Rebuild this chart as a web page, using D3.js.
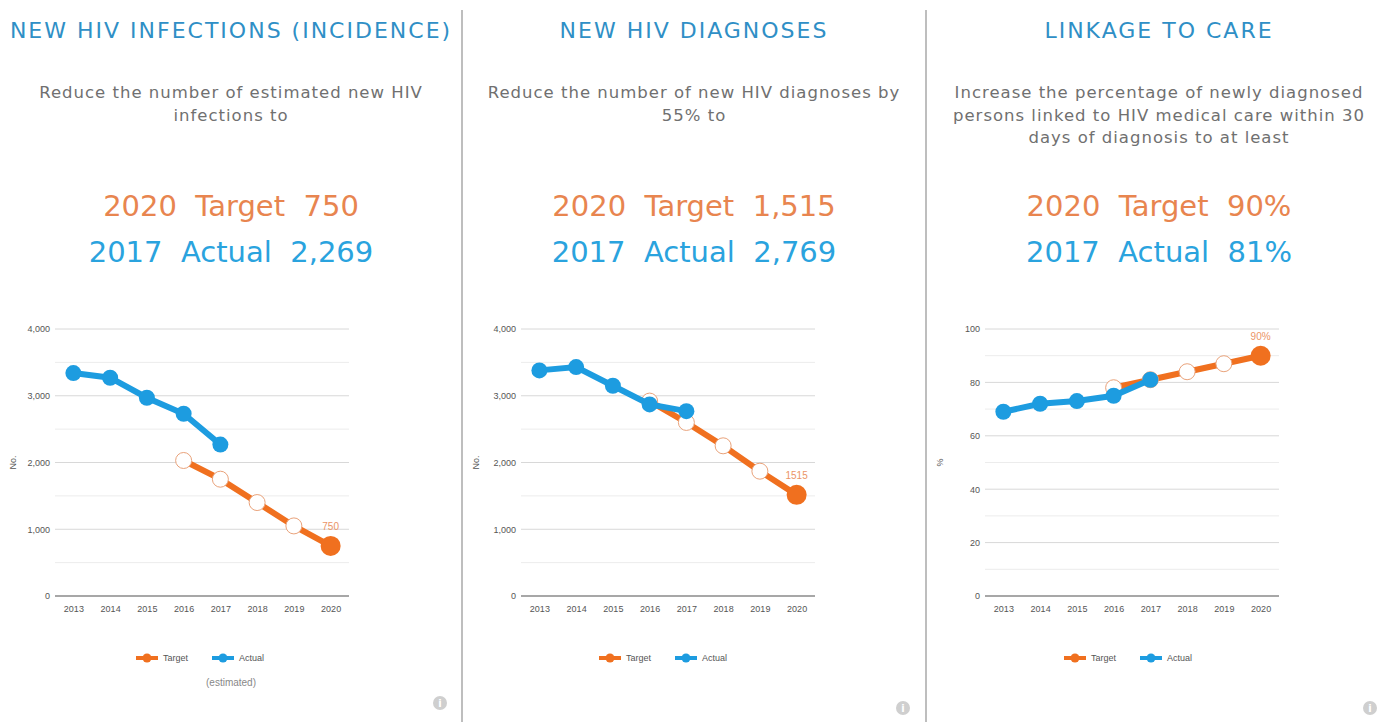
<!DOCTYPE html>
<html>
<head>
<meta charset="utf-8">
<script src="https://cdn.jsdelivr.net/npm/d3@7"></script>
<style>
body { margin: 0; background: #fff; }
text { white-space: pre; }
</style>
</head>
<body>
<svg id="chart" width="1389" height="722"></svg>
<script>
var years = ["2013", "2014", "2015", "2016", "2017", "2018", "2019", "2020"];

var titles = ["NEW HIV INFECTIONS (INCIDENCE)", "NEW HIV DIAGNOSES", "LINKAGE TO CARE"];
var subtitles = [
    ["Reduce the number of estimated new HIV", "infections to"],
    ["Reduce the number of new HIV diagnoses by", "55% to"],
    ["Increase the percentage of newly diagnosed", "persons linked to HIV medical care within 30", "days of diagnosis to at least"]
];
var targetLines = ["2020  Target  750", "2020  Target  1,515", "2020  Target  90%"];
var actualLines = ["2017  Actual  2,269", "2017  Actual  2,769", "2017  Actual  81%"];

var incidenceActual = [3340, 3270, 2970, 2730, 2269, null, null, null];
var incidenceTarget = [null, null, null, 2030, 1750, 1400, 1050, 750];
var diagnosesActual = [3380, 3430, 3150, 2870, 2769, null, null, null];
var diagnosesTarget = [null, null, null, 2920, 2600, 2250, 1870, 1515];
var linkageActual = [69, 72, 73, 75, 81, null, null, null];
var linkageTarget = [null, null, null, 78, 81, 84, 87, 90];

var yMax = [4000, 4000, 100];
var yStep = [1000, 1000, 20];
var yTitles = ["No.", "No.", "%"];
var endLabels = ["750", "1515", "90%"];
var legendNames = ["Target", "Actual"];
var legendNotes = ["(estimated)", "", ""];

var orange = "#f0701f",
    blue = "#1d9ce0";

var panels = [
    {x: 0, cx: 231, plotLeft: 55, actual: incidenceActual, target: incidenceTarget},
    {x: 463, cx: 694, plotLeft: 521, actual: diagnosesActual, target: diagnosesTarget},
    {x: 927, cx: 1159, plotLeft: 985, actual: linkageActual, target: linkageTarget}
];

var plotWidth = 294,
    plotTop = 329,
    plotBottom = 596;

var svg = d3.select("#chart");

svg.append("rect")
    .attr("width", 1389)
    .attr("height", 722)
    .attr("fill", "#fff");

// dividers between the panels
[462, 926].forEach(function(x) {
    svg.append("line")
        .attr("x1", x).attr("x2", x)
        .attr("y1", 10).attr("y2", 722)
        .attr("stroke", "#a8a8a8")
        .attr("stroke-width", 1.5);
});

panels.forEach(function(p, i) {
    var g = svg.append("g");

    g.append("text")
        .text(titles[i])
        .attr("x", p.cx)
        .attr("y", 38)
        .attr("text-anchor", "middle")
        .style("font-family", "'DejaVu Sans', sans-serif")
        .style("font-size", "22px")
        .style("letter-spacing", "2px")
        .style("fill", "#2f8fc6");

    subtitles[i].forEach(function(line, j) {
        g.append("text")
            .text(line)
            .attr("x", p.cx)
            .attr("y", 98 + j * 22.5)
            .attr("text-anchor", "middle")
            .style("font-family", "'DejaVu Sans', sans-serif")
            .style("font-size", "16.5px")
            .style("letter-spacing", "1px")
            .style("fill", "#707070");
    });

    g.append("text")
        .text(targetLines[i])
        .attr("x", p.cx)
        .attr("y", 216)
        .attr("text-anchor", "middle")
        .style("font-family", "'DejaVu Sans', sans-serif")
        .style("font-size", "29px")
        .style("fill", "#e8854f");

    g.append("text")
        .text(actualLines[i])
        .attr("x", p.cx)
        .attr("y", 262)
        .attr("text-anchor", "middle")
        .style("font-family", "'DejaVu Sans', sans-serif")
        .style("font-size", "29px")
        .style("fill", "#2aa3de");

    // chart
    var x = d3.scalePoint()
        .domain(years)
        .range([p.plotLeft, p.plotLeft + plotWidth])
        .padding(0.5);

    var y = d3.scaleLinear()
        .domain([0, yMax[i]])
        .range([plotBottom, plotTop]);

    var gridValues = d3.range(0, yMax[i] + 1, yStep[i] / 2);
    g.selectAll("line.grid")
        .data(gridValues)
        .enter()
        .append("line")
        .attr("class", "grid")
        .attr("x1", p.plotLeft)
        .attr("x2", p.plotLeft + plotWidth)
        .attr("y1", function(d) { return y(d); })
        .attr("y2", function(d) { return y(d); })
        .attr("stroke", function(d) {
            if (d === 0) return "#8a8a8a";
            return d % yStep[i] === 0 ? "#d8d8d8" : "#ececec";
        })
        .attr("stroke-width", function(d) { return d === 0 ? 1.5 : 1; });

    var yAxis = d3.axisLeft(y)
        .tickValues(d3.range(0, yMax[i] + 1, yStep[i]))
        .tickSize(0)
        .tickPadding(5)
        .tickFormat(d3.format(","));

    var ya = g.append("g")
        .attr("transform", "translate(" + p.plotLeft + ",0)")
        .call(yAxis);
    ya.select(".domain").remove();
    ya.selectAll("text")
        .style("font-family", "'Liberation Sans', Arial, sans-serif")
        .style("font-size", "9px")
        .style("fill", "#555");

    var xAxis = d3.axisBottom(x)
        .tickSize(0)
        .tickPadding(10);

    var xa = g.append("g")
        .attr("transform", "translate(0," + plotBottom + ")")
        .call(xAxis);
    xa.select(".domain").remove();
    xa.selectAll("text")
        .style("font-family", "'Liberation Sans', Arial, sans-serif")
        .style("font-size", "9px")
        .style("fill", "#555");

    g.append("text")
        .text(yTitles[i])
        .attr("transform", "translate(" + (p.x + 16) + "," + ((plotTop + plotBottom) / 2) + ") rotate(-90)")
        .attr("text-anchor", "middle")
        .style("font-family", "'Liberation Sans', Arial, sans-serif")
        .style("font-size", "9px")
        .style("fill", "#555");

    var line = d3.line()
        .defined(function(d) { return d != null; })
        .x(function(d, k) { return x(years[k]); })
        .y(function(d) { return y(d); });

    // target first, actual drawn on top
    g.append("path")
        .datum(p.target)
        .attr("d", line)
        .attr("fill", "none")
        .attr("stroke", orange)
        .attr("stroke-width", 6);

    var targetPts = p.target.map(function(v, k) { return {v: v, k: k}; })
        .filter(function(d) { return d.v != null; });
    var last = targetPts[targetPts.length - 1];

    g.selectAll("circle.target")
        .data(targetPts)
        .enter()
        .append("circle")
        .attr("class", "target")
        .attr("cx", function(d) { return x(years[d.k]); })
        .attr("cy", function(d) { return y(d.v); })
        .attr("r", function(d) { return d === last ? 10 : 8; })
        .attr("fill", function(d) { return d === last ? orange : "#fff"; })
        .attr("stroke", function(d) { return d === last ? "none" : "#e9a27a"; })
        .attr("stroke-width", 1);

    g.append("text")
        .text(endLabels[i])
        .attr("x", x(years[last.k]))
        .attr("y", y(last.v) - 16)
        .attr("text-anchor", "middle")
        .style("font-family", "'Liberation Sans', Arial, sans-serif")
        .style("font-size", "10px")
        .style("fill", "#eb9466");

    g.append("path")
        .datum(p.actual)
        .attr("d", line)
        .attr("fill", "none")
        .attr("stroke", blue)
        .attr("stroke-width", 6);

    var actualPts = p.actual.map(function(v, k) { return {v: v, k: k}; })
        .filter(function(d) { return d.v != null; });

    g.selectAll("circle.actual")
        .data(actualPts)
        .enter()
        .append("circle")
        .attr("class", "actual")
        .attr("cx", function(d) { return x(years[d.k]); })
        .attr("cy", function(d) { return y(d.v); })
        .attr("r", 8)
        .attr("fill", blue);

    // legend
    var legendX = p.cx - 95;
    [orange, blue].forEach(function(c, j) {
        var lx = legendX + j * 76;
        g.append("line")
            .attr("x1", lx).attr("x2", lx + 22)
            .attr("y1", 658).attr("y2", 658)
            .attr("stroke", c)
            .attr("stroke-width", 4);
        g.append("circle")
            .attr("cx", lx + 11)
            .attr("cy", 658)
            .attr("r", 4.5)
            .attr("fill", c);
        g.append("text")
            .text(legendNames[j])
            .attr("x", lx + 27)
            .attr("y", 661)
            .style("font-family", "'Liberation Sans', Arial, sans-serif")
            .style("font-size", "9px")
            .style("fill", "#555");
    });

    if (legendNotes[i]) {
        g.append("text")
            .text(legendNotes[i])
            .attr("x", p.cx)
            .attr("y", 686)
            .attr("text-anchor", "middle")
            .style("font-family", "'Liberation Sans', Arial, sans-serif")
            .style("font-size", "10px")
            .style("fill", "#888");
    }

    // info icon
    var iy = i === 0 ? 703 : 708;
    var ix = p.x + (i === 0 ? 440 : 440 + (i === 2 ? 3 : 0));
    g.append("circle")
        .attr("cx", ix)
        .attr("cy", iy)
        .attr("r", 7)
        .attr("fill", "#cfcfcf");
    g.append("text")
        .text("i")
        .attr("x", ix)
        .attr("y", iy + 4)
        .attr("text-anchor", "middle")
        .style("font-family", "'DejaVu Sans', sans-serif")
        .style("font-weight", "bold")
        .style("font-size", "10px")
        .style("fill", "#fff");
});
</script>
</body>
</html>
